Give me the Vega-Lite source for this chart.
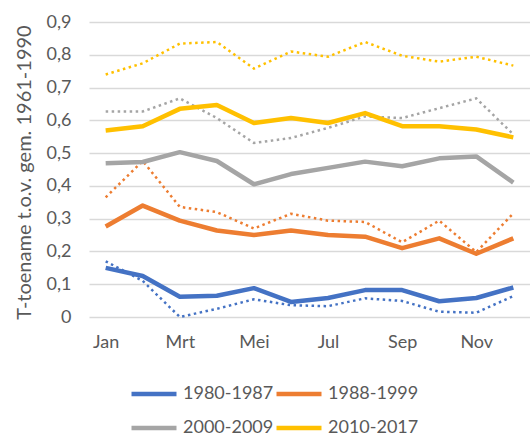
{
  "$schema": "https://vega.github.io/schema/vega-lite/v6.json",
  "width": 441,
  "height": 295,
  "autosize": {"type": "none"},
  "padding": {"left": 89, "top": 22, "right": 0, "bottom": 121},
  "background": "white",
  "config": {
    "font": "Lato",
    "view": {"stroke": null},
    "axis": {"labelFont": "Lato", "titleFont": "Lato", "labelFontSize": 18, "titleFontSize": 20, "labelColor": "#595959", "titleColor": "#595959", "titleFontWeight": "normal"}
  },
  "datasets": {
    "solid": [
      {"m": "Jan", "p": "1980-1987", "v": 0.15}, {"m": "Feb", "p": "1980-1987", "v": 0.125}, {"m": "Mrt", "p": "1980-1987", "v": 0.062}, {"m": "Apr", "p": "1980-1987", "v": 0.065}, {"m": "Mei", "p": "1980-1987", "v": 0.088}, {"m": "Jun", "p": "1980-1987", "v": 0.046}, {"m": "Jul", "p": "1980-1987", "v": 0.058}, {"m": "Aug", "p": "1980-1987", "v": 0.082}, {"m": "Sep", "p": "1980-1987", "v": 0.082}, {"m": "Okt", "p": "1980-1987", "v": 0.048}, {"m": "Nov", "p": "1980-1987", "v": 0.058}, {"m": "Dec", "p": "1980-1987", "v": 0.09},
      {"m": "Jan", "p": "1988-1999", "v": 0.276}, {"m": "Feb", "p": "1988-1999", "v": 0.34}, {"m": "Mrt", "p": "1988-1999", "v": 0.294}, {"m": "Apr", "p": "1988-1999", "v": 0.264}, {"m": "Mei", "p": "1988-1999", "v": 0.25}, {"m": "Jun", "p": "1988-1999", "v": 0.264}, {"m": "Jul", "p": "1988-1999", "v": 0.25}, {"m": "Aug", "p": "1988-1999", "v": 0.245}, {"m": "Sep", "p": "1988-1999", "v": 0.21}, {"m": "Okt", "p": "1988-1999", "v": 0.24}, {"m": "Nov", "p": "1988-1999", "v": 0.193}, {"m": "Dec", "p": "1988-1999", "v": 0.24},
      {"m": "Jan", "p": "2000-2009", "v": 0.469}, {"m": "Feb", "p": "2000-2009", "v": 0.473}, {"m": "Mrt", "p": "2000-2009", "v": 0.503}, {"m": "Apr", "p": "2000-2009", "v": 0.476}, {"m": "Mei", "p": "2000-2009", "v": 0.405}, {"m": "Jun", "p": "2000-2009", "v": 0.436}, {"m": "Jul", "p": "2000-2009", "v": 0.455}, {"m": "Aug", "p": "2000-2009", "v": 0.474}, {"m": "Sep", "p": "2000-2009", "v": 0.46}, {"m": "Okt", "p": "2000-2009", "v": 0.484}, {"m": "Nov", "p": "2000-2009", "v": 0.49}, {"m": "Dec", "p": "2000-2009", "v": 0.41},
      {"m": "Jan", "p": "2010-2017", "v": 0.569}, {"m": "Feb", "p": "2010-2017", "v": 0.582}, {"m": "Mrt", "p": "2010-2017", "v": 0.635}, {"m": "Apr", "p": "2010-2017", "v": 0.647}, {"m": "Mei", "p": "2010-2017", "v": 0.592}, {"m": "Jun", "p": "2010-2017", "v": 0.607}, {"m": "Jul", "p": "2010-2017", "v": 0.592}, {"m": "Aug", "p": "2010-2017", "v": 0.622}, {"m": "Sep", "p": "2010-2017", "v": 0.582}, {"m": "Okt", "p": "2010-2017", "v": 0.582}, {"m": "Nov", "p": "2010-2017", "v": 0.572}, {"m": "Dec", "p": "2010-2017", "v": 0.548}
    ],
    "dotted": [
      {"m": "Jan", "p": "1980-1987", "v": 0.17}, {"m": "Feb", "p": "1980-1987", "v": 0.11}, {"m": "Mrt", "p": "1980-1987", "v": 0.0}, {"m": "Apr", "p": "1980-1987", "v": 0.025}, {"m": "Mei", "p": "1980-1987", "v": 0.054}, {"m": "Jun", "p": "1980-1987", "v": 0.036}, {"m": "Jul", "p": "1980-1987", "v": 0.033}, {"m": "Aug", "p": "1980-1987", "v": 0.057}, {"m": "Sep", "p": "1980-1987", "v": 0.049}, {"m": "Okt", "p": "1980-1987", "v": 0.016}, {"m": "Nov", "p": "1980-1987", "v": 0.013}, {"m": "Dec", "p": "1980-1987", "v": 0.064},
      {"m": "Jan", "p": "1988-1999", "v": 0.365}, {"m": "Feb", "p": "1988-1999", "v": 0.476}, {"m": "Mrt", "p": "1988-1999", "v": 0.336}, {"m": "Apr", "p": "1988-1999", "v": 0.32}, {"m": "Mei", "p": "1988-1999", "v": 0.27}, {"m": "Jun", "p": "1988-1999", "v": 0.315}, {"m": "Jul", "p": "1988-1999", "v": 0.294}, {"m": "Aug", "p": "1988-1999", "v": 0.29}, {"m": "Sep", "p": "1988-1999", "v": 0.228}, {"m": "Okt", "p": "1988-1999", "v": 0.294}, {"m": "Nov", "p": "1988-1999", "v": 0.198}, {"m": "Dec", "p": "1988-1999", "v": 0.316},
      {"m": "Jan", "p": "2000-2009", "v": 0.627}, {"m": "Feb", "p": "2000-2009", "v": 0.627}, {"m": "Mrt", "p": "2000-2009", "v": 0.667}, {"m": "Apr", "p": "2000-2009", "v": 0.607}, {"m": "Mei", "p": "2000-2009", "v": 0.531}, {"m": "Jun", "p": "2000-2009", "v": 0.546}, {"m": "Jul", "p": "2000-2009", "v": 0.577}, {"m": "Aug", "p": "2000-2009", "v": 0.612}, {"m": "Sep", "p": "2000-2009", "v": 0.607}, {"m": "Okt", "p": "2000-2009", "v": 0.637}, {"m": "Nov", "p": "2000-2009", "v": 0.667}, {"m": "Dec", "p": "2000-2009", "v": 0.557},
      {"m": "Jan", "p": "2010-2017", "v": 0.74}, {"m": "Feb", "p": "2010-2017", "v": 0.774}, {"m": "Mrt", "p": "2010-2017", "v": 0.834}, {"m": "Apr", "p": "2010-2017", "v": 0.839}, {"m": "Mei", "p": "2010-2017", "v": 0.758}, {"m": "Jun", "p": "2010-2017", "v": 0.81}, {"m": "Jul", "p": "2010-2017", "v": 0.794}, {"m": "Aug", "p": "2010-2017", "v": 0.839}, {"m": "Sep", "p": "2010-2017", "v": 0.797}, {"m": "Okt", "p": "2010-2017", "v": 0.779}, {"m": "Nov", "p": "2010-2017", "v": 0.794}, {"m": "Dec", "p": "2010-2017", "v": 0.767}
    ]
  },
  "encoding": {
    "x": {
      "field": "m", "type": "ordinal",
      "sort": ["Jan", "Feb", "Mrt", "Apr", "Mei", "Jun", "Jul", "Aug", "Sep", "Okt", "Nov", "Dec"],
      "scale": {"type": "point", "padding": 0.45},
      "axis": {"title": null, "values": ["Jan", "Mrt", "Mei", "Jul", "Sep", "Nov"], "labelAngle": 0, "domain": false, "ticks": false, "tickSize": 0, "labelPadding": 16, "grid": false}
    },
    "y": {
      "field": "v", "type": "quantitative",
      "scale": {"domain": [0, 0.9], "nice": false},
      "axis": {"title": "T-toename t.o.v. gem. 1961-1990", "values": [0, 0.1, 0.2, 0.3, 0.4, 0.5, 0.6, 0.7, 0.8, 0.9], "labelExpr": "datum.value == 0 ? '0' : replace(format(datum.value, '.1f'), '.', ',')", "domain": false, "ticks": false, "tickSize": 0, "labelPadding": 18, "gridColor": "#d9d9d9", "gridWidth": 1.5, "titleX": -55, "titleY": 150}
    },
    "color": {
      "field": "p", "type": "nominal",
      "scale": {"domain": ["1980-1987", "1988-1999", "2000-2009", "2010-2017"], "range": ["#4472C4", "#ED7D31", "#A5A5A5", "#FFC000"]},
      "legend": {"title": null, "orient": "none", "direction": "horizontal", "legendX": 40, "legendY": 347, "columns": 2, "symbolType": "stroke", "symbolSize": 2025, "symbolStrokeWidth": 4.5, "symbolDash": [1, 0], "labelFont": "Lato", "labelFontSize": 18, "labelColor": "#595959", "labelOffset": 4, "columnPadding": -10, "rowPadding": -3}
    }
  },
  "layer": [
    {
      "data": {"name": "dotted"},
      "mark": {"type": "line", "strokeWidth": 2.5, "strokeDash": [2.5, 3.5]}
    },
    {
      "data": {"name": "solid"},
      "mark": {"type": "line", "strokeWidth": 4.5, "strokeJoin": "round"}
    }
  ]
}
